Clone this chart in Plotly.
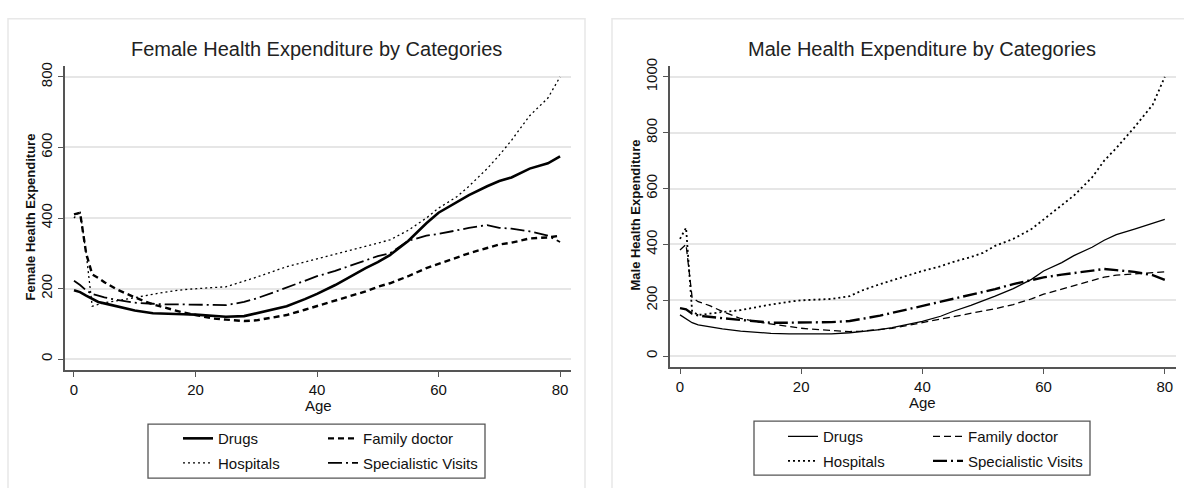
import plotly.graph_objects as go

# ---------------- data ----------------
AGES = [0, 1, 2, 3, 4, 5, 7, 10, 13, 15, 18, 20, 23, 25, 28, 30, 33, 35, 38, 40,
        43, 45, 48, 50, 52, 55, 58, 60, 63, 65, 68, 70, 72, 75, 78, 80]

F_DRUGS = [195, 190, 180, 170, 162, 158, 150, 138, 130, 128, 127, 126, 122, 120, 122, 130, 140, 150, 170, 185,
           210, 230, 258, 275, 295, 335, 385, 415, 445, 465, 490, 505, 515, 540, 555, 575]
F_FAMDOC = [410, 415, 300, 240, 230, 218, 198, 175, 155, 145, 132, 125, 115, 112, 108, 110, 118, 125, 140, 150,
            165, 175, 192, 205, 215, 235, 258, 270, 288, 300, 315, 325, 330, 342, 345, 350]
F_HOSP = [400, 420, 300, 150, 155, 160, 165, 175, 185, 190, 197, 200, 203, 205, 220, 232, 250, 262, 275, 284,
          296, 306, 318, 328, 338, 365, 400, 428, 460, 490, 540, 578, 620, 690, 740, 800]
F_SPEC = [222, 210, 195, 185, 180, 175, 168, 160, 157, 155, 155, 155, 155, 153, 162, 172, 190, 203, 222, 235,
          250, 262, 280, 292, 300, 335, 350, 355, 365, 372, 380, 372, 370, 362, 350, 332]

M_DRUGS = [148, 135, 120, 112, 108, 105, 98, 90, 85, 82, 80, 80, 80, 80, 84, 88, 95, 102, 115, 125,
           143, 160, 182, 198, 215, 242, 275, 305, 335, 360, 390, 415, 435, 455, 475, 490]
M_FAMDOC = [380, 400, 210, 195, 188, 180, 160, 135, 122, 115, 105, 100, 95, 92, 88, 90, 95, 100, 112, 120,
            132, 140, 152, 160, 170, 185, 205, 222, 240, 252, 272, 283, 290, 295, 300, 302]
M_HOSP = [420, 460, 160, 148, 150, 152, 158, 165, 178, 185, 195, 200, 203, 205, 215, 235, 258, 272, 292, 305,
          322, 337, 355, 370, 395, 420, 455, 490, 540, 575, 640, 700, 745, 820, 900, 1000]
M_SPEC = [172, 168, 152, 146, 143, 140, 136, 130, 124, 120, 120, 120, 121, 122, 126, 133, 145, 155, 170, 182,
          195, 205, 220, 230, 240, 258, 272, 282, 292, 298, 305, 312, 308, 302, 290, 273]

CATEGORIES = ["Drugs", "Family doctor", "Hospitals", "Specialistic Visits"]
X_TICKS = [0, 20, 40, 60, 80]
F_Y_TICKS = [0, 200, 400, 600, 800]
M_Y_TICKS = [0, 200, 400, 600, 800, 1000]

TITLE_F = "Female Health Expenditure by Categories"
TITLE_M = "Male Health Expenditure by Categories"
YTITLE_F = "Female Health Expenditure"
YTITLE_M = "Male Health Expenditure"
XTITLE = "Age"

# ---------------- layout helpers ----------------
W, H = 1184, 488
def px(x):
    return x / W
def py(y):
    return 1 - y / H

NARROW = "Liberation Sans Narrow, Arial Narrow, Liberation Sans, Arial, sans-serif"
SANS = "Liberation Sans, Arial, sans-serif"

fig = go.Figure()

# styles: (width, dash)
F_STYLE = {
    "Drugs": (2.6, "solid"),
    "Family doctor": (2.4, "6px,4px"),
    "Hospitals": (1.3, "2px,3px"),
    "Specialistic Visits": (1.8, "14px,4px,2px,4px"),
}
M_STYLE = {
    "Drugs": (1.3, "solid"),
    "Family doctor": (1.3, "7px,4px"),
    "Hospitals": (1.8, "2px,3px"),
    "Specialistic Visits": (2.4, "14px,4px,2px,4px"),
}

female = dict(zip(CATEGORIES, [F_DRUGS, F_FAMDOC, F_HOSP, F_SPEC]))
male = dict(zip(CATEGORIES, [M_DRUGS, M_FAMDOC, M_HOSP, M_SPEC]))

legend_col = {"Drugs": 0, "Hospitals": 0, "Family doctor": 1, "Specialistic Visits": 1}
order = ["Drugs", "Hospitals", "Family doctor", "Specialistic Visits"]

for name in order:
    w, d = F_STYLE[name]
    lg = "legend" if legend_col[name] == 0 else "legend2"
    fig.add_trace(go.Scatter(x=AGES, y=female[name], mode="lines", name=name,
                             line=dict(color="black", width=w, dash=d),
                             xaxis="x", yaxis="y", legend=lg, legendgroup="f" + name,
                             hoverinfo="skip"))
for name in order:
    w, d = M_STYLE[name]
    lg = "legend3" if legend_col[name] == 0 else "legend4"
    fig.add_trace(go.Scatter(x=AGES, y=male[name], mode="lines", name=name,
                             line=dict(color="black", width=w, dash=d),
                             xaxis="x2", yaxis="y2", legend=lg, legendgroup="m" + name,
                             hoverinfo="skip"))

axis_common = dict(showline=True, linecolor="#555555", linewidth=1.5, ticks="outside",
                   ticklen=5, tickcolor="#555555", tickwidth=1, zeroline=False,
                   tickfont=dict(family=NARROW, size=15, color="#111111"))

fig.update_layout(
    width=W, height=H, margin=dict(l=0, r=0, t=0, b=0),
    paper_bgcolor="white", plot_bgcolor="white", showlegend=True,
    xaxis=dict(domain=[px(65), px(571)], range=[-1.48, 81.8], tickvals=X_TICKS,
               showgrid=False, anchor="y", **axis_common),
    yaxis=dict(domain=[py(368), py(59)], range=[-30.7, 830.7], tickvals=F_Y_TICKS,
               showgrid=True, gridcolor="#e6e6e6", gridwidth=1.5, tickangle=-90,
               anchor="x", **axis_common),
    xaxis2=dict(domain=[px(670), px(1176)], range=[-1.65, 81.85], tickvals=X_TICKS,
                showgrid=False, anchor="y2", **axis_common),
    yaxis2=dict(domain=[py(365), py(59)], range=[-38.7, 1038.7], tickvals=M_Y_TICKS,
                showgrid=True, gridcolor="#e6e6e6", gridwidth=1.5, tickangle=-90,
                anchor="x2", **axis_common),
)

leg_common = dict(orientation="v", xanchor="left", yanchor="top", bgcolor="rgba(0,0,0,0)",
                  borderwidth=0, font=dict(family=NARROW, size=15, color="#111111"),
                  traceorder="grouped", tracegroupgap=2, itemwidth=30)
fig.update_layout(
    legend=dict(x=px(178), y=py(421), **leg_common),
    legend2=dict(x=px(323), y=py(421), **leg_common),
    legend3=dict(x=px(783), y=py(419), **leg_common),
    legend4=dict(x=px(928), y=py(419), **leg_common),
)

shapes = [
    # panel frames
    dict(type="rect", xref="paper", yref="paper", x0=px(8), x1=px(585), y0=py(492), y1=py(11),
         line=dict(color="#e8e8e8", width=1.5), fillcolor="rgba(0,0,0,0)", layer="below"),
    dict(type="rect", xref="paper", yref="paper", x0=px(612), x1=px(1190), y0=py(492), y1=py(11),
         line=dict(color="#e8e8e8", width=1.5), fillcolor="rgba(0,0,0,0)", layer="below"),
    # legend boxes
    dict(type="rect", xref="paper", yref="paper", x0=px(148), x1=px(485), y0=py(478), y1=py(423),
         line=dict(color="#555555", width=1.3)),
    dict(type="rect", xref="paper", yref="paper", x0=px(754), x1=px(1090), y0=py(475), y1=py(420),
         line=dict(color="#555555", width=1.3)),
]
fig.update_layout(shapes=shapes)

ann = [
    dict(text=TITLE_F, x=px(316), y=py(42), font=dict(family=SANS, size=20, color="#222222")),
    dict(text=TITLE_M, x=px(922), y=py(42), font=dict(family=SANS, size=20, color="#222222")),
    dict(text=XTITLE, x=px(318), y=py(404), font=dict(family=NARROW, size=15, color="#111111")),
    dict(text=XTITLE, x=px(922), y=py(401), font=dict(family=NARROW, size=15, color="#111111")),
    dict(text="<b>" + YTITLE_F + "</b>", x=px(31), y=py(213), textangle=-90,
         font=dict(family=SANS, size=13, color="#111111")),
    dict(text="<b>" + YTITLE_M + "</b>", x=px(636), y=py(211), textangle=-90,
         font=dict(family=SANS, size=13, color="#111111")),
]
for a in ann:
    a.update(xref="paper", yref="paper", showarrow=False, xanchor="center", yanchor="middle")
fig.update_layout(annotations=ann)

fig.write_html("out.html", config={"displayModeBar": False},
               post_script="document.body.style.margin='0px';")
